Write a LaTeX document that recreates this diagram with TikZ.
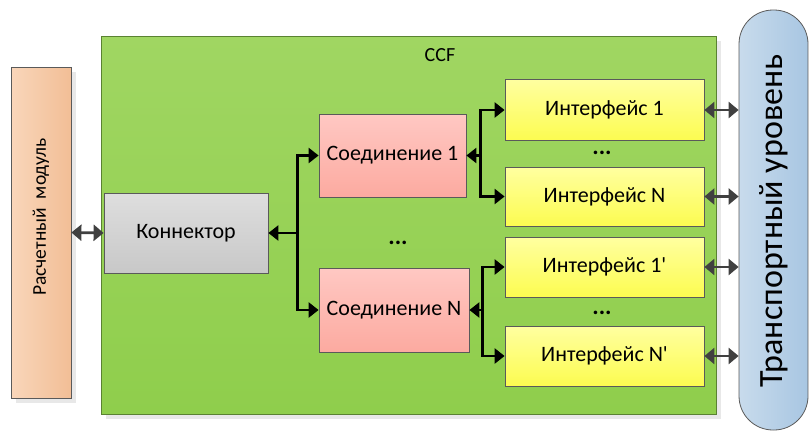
\documentclass[tikz,border=0pt]{standalone}
\usepackage{fontspec}
\setmainfont{Carlito}[Ligatures=TeXOff]
\usetikzlibrary{arrows.meta,calc}
\definecolor{grnT}{RGB}{160,214,98}
\definecolor{grnB}{RGB}{143,206,76}
\definecolor{grnD}{RGB}{90,130,50}
\definecolor{orL}{RGB}{249,214,186}
\definecolor{orR}{RGB}{242,190,150}
\definecolor{gyT}{RGB}{222,222,222}
\definecolor{gyB}{RGB}{200,200,200}
\definecolor{pkT}{RGB}{255,200,195}
\definecolor{pkB}{RGB}{252,170,160}
\definecolor{ylT}{RGB}{255,255,160}
\definecolor{ylB}{RGB}{252,252,80}
\definecolor{blL}{RGB}{200,219,236}
\definecolor{blR}{RGB}{168,198,226}
\definecolor{edge}{RGB}{90,90,90}
\definecolor{dark}{RGB}{64,64,64}
\tikzset{
  x=1pt,y=-1pt,
  box/.style={draw=edge, line width=0.8pt, inner sep=0pt, font=\fontsize{22}{26}\selectfont},
  shad/.style={fill=black, fill opacity=0.09, draw=none},
  arr/.style={line width=2.8pt, black, -{Triangle[length=10pt,width=15pt]}},
  darr/.style={line width=2.8pt, dark, {Triangle[length=10pt,width=16pt]}-{Triangle[length=10pt,width=16pt]}},
  dots/.style={font=\fontsize{24}{26}\selectfont\bfseries}
}
\begin{document}
\begin{tikzpicture}
\useasboundingbox (0,0) rectangle (810,431);
% shadows
\fill[shad] (16,72) rectangle (76,403);
\fill[shad] (106,41) rectangle (721,419);
\fill[shad] (109,198) rectangle (273,278);
\fill[shad] (324,119) rectangle (471,202);
\fill[shad] (324,273) rectangle (474,357);
\fill[shad] (510,84) rectangle (709,145);
\fill[shad] (510,172) rectangle (709,231);
\fill[shad] (510,242) rectangle (709,302);
\fill[shad] (510,331) rectangle (709,391);
% CCF
\node[draw=grnD, line width=0.8pt, top color=grnT, bottom color=grnB, minimum width=615, minimum height=378, inner sep=0pt, anchor=north west] (ccf) at (101,36) {};
\node[font=\fontsize{20}{22}\selectfont] (ccflbl) at (440,55) {CCF};
% module
\node[box, left color=orL, right color=orR, minimum width=60, minimum height=331] (mod) at (41,232.5) {};
\node[rotate=90, font=\fontsize{19.5}{22}\selectfont] (modlbl) at (41,217) {Расчетный\ \ модуль};
% connector
\node[box, top color=gyT, bottom color=gyB, minimum width=164, minimum height=80] (conn) at (186,233) {Коннектор};
% connections
\node[box, top color=pkT, bottom color=pkB, minimum width=147, minimum height=83] (s1) at (392.5,155.5) {Соединение 1};
\node[box, top color=pkT, bottom color=pkB, minimum width=150, minimum height=84] (sN) at (394,310) {Соединение N};
% interfaces
\node[box, top color=ylT, bottom color=ylB, minimum width=199, minimum height=61] (i1) at (604.5,110) {Интерфейс 1};
\node[box, top color=ylT, bottom color=ylB, minimum width=199, minimum height=59] (iN) at (604.5,196.5) {Интерфейс N};
\node[box, top color=ylT, bottom color=ylB, minimum width=199, minimum height=60] (i1p) at (604.5,267) {Интерфейс 1'};
\node[box, top color=ylT, bottom color=ylB, minimum width=199, minimum height=60] (iNp) at (604.5,356) {Интерфейс N'};
% transport
\node[draw=edge, line width=0.8pt, rounded corners=34pt, left color=blL, right color=blR, minimum width=69, minimum height=420, inner sep=0pt] (tr) at (773.5,220) {};
\node[rotate=90, font=\fontsize{34}{36}\selectfont] (trlbl) at (773.5,221) {Транспортный уровень};
% dots
\node[dots] (d1) at (398,243) {...};
\node[dots] (d2) at (602,153) {...};
\node[dots] (d3) at (602,313) {...};
% connectors
\draw[darr] (mod.east) -- (conn.west);
\coordinate (t) at ($(conn.east)+(29,0)$);
\draw[arr] (t) -- (conn.east);
\draw[arr] (t) |- (s1.west);
\draw[arr] (t) |- (sN.west);
\coordinate (b1) at ($(s1.east)+(14,0)$);
\draw[arr] (b1) -- (s1.east);
\draw[arr] (b1) |- (i1.west);
\draw[arr] (b1) |- (iN.west);
\coordinate (b2) at ($(sN.east)+(13,0)$);
\draw[arr] (b2) -- (sN.east);
\draw[arr] (b2) |- (i1p.west);
\draw[arr] (b2) |- (iNp.west);
\draw[darr] (i1.east) -- (i1.east -| tr.west);
\draw[darr] (iN.east) -- (iN.east -| tr.west);
\draw[darr] (i1p.east) -- (i1p.east -| tr.west);
\draw[darr] (iNp.east) -- (iNp.east -| tr.west);
\end{tikzpicture}
\end{document}
